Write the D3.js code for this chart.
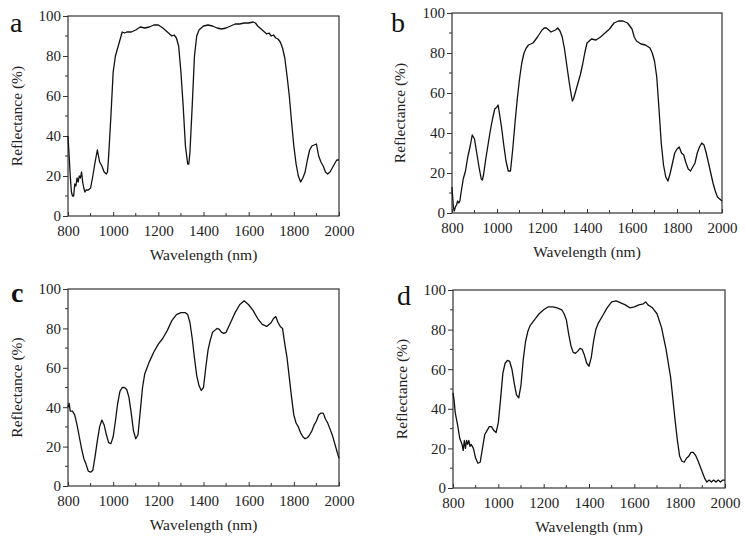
<!DOCTYPE html>
<html lang="en">
<head>
    <meta charset="UTF-8">
    <script src="https://d3js.org/d3.v7.min.js"></script>
    <title>Reflectance spectra</title>
    <style>
        body {
            background-color: white;
            margin: 0;
            padding: 0;
        }
    </style>
</head>
<body>
    <svg id="chart" width="745" height="543"></svg>
    <script>
        // wavelength (nm) and reflectance (%)
        const wlA = [800, 805, 810, 815, 820, 825, 830, 835, 840, 845, 850, 855, 860, 865, 870, 875, 880, 890, 900, 910, 920, 930, 935, 940, 950, 960, 970, 975, 980, 990, 1000, 1010, 1020, 1030, 1040, 1050, 1060, 1080, 1100, 1120, 1140, 1160, 1180, 1200, 1220, 1240, 1260, 1270, 1280, 1290, 1300, 1310, 1320, 1330, 1335, 1340, 1350, 1360, 1370, 1380, 1400, 1420, 1440, 1460, 1480, 1500, 1520, 1540, 1560, 1580, 1600, 1620, 1630, 1640, 1650, 1660, 1670, 1680, 1690, 1700, 1710, 1720, 1730, 1740, 1750, 1760, 1770, 1780, 1790, 1800, 1810, 1820, 1830, 1840, 1850, 1860, 1870, 1880, 1890, 1900, 1910, 1920, 1930, 1940, 1950, 1960, 1970, 1980, 1990, 2000];
        const rA = [40, 30, 20, 12, 10, 10, 16, 15, 19, 17, 20, 19, 22, 17, 14, 12, 13, 13, 14, 20, 27, 33, 30, 27, 25, 22, 21, 22, 30, 50, 72, 80, 84, 88, 92, 91.5, 92, 92, 93, 94.5, 94, 94.5, 95.5, 95.5, 94, 92, 90, 90.5, 89, 85, 72, 55, 35, 26, 26, 32, 55, 80, 90, 93, 95, 95.5, 95, 94, 93.5, 94, 95, 96, 96, 96.5, 96.5, 97, 96.5, 95, 94, 93, 92, 91, 91.5, 90, 90.5, 89, 88.5, 87, 84, 79, 70, 60, 47, 35, 26, 20, 17, 19, 22, 28, 33, 35, 35.5, 36, 30, 27, 25, 22, 21, 22, 24, 26, 28, 28];

        const wlB = [800, 803, 806, 810, 815, 820, 825, 830, 835, 840, 850, 860, 870, 880, 890, 900, 910, 920, 930, 935, 940, 950, 960, 970, 980, 990, 1000, 1005, 1020, 1030, 1040, 1050, 1060, 1070, 1080, 1090, 1100, 1110, 1120, 1130, 1140, 1160, 1180, 1200, 1210, 1220, 1230, 1240, 1260, 1270, 1280, 1290, 1300, 1310, 1320, 1330, 1335, 1340, 1350, 1360, 1370, 1380, 1390, 1400, 1410, 1420, 1440, 1460, 1480, 1500, 1520, 1540, 1560, 1580, 1600, 1610, 1620, 1640, 1660, 1680, 1690, 1700, 1710, 1720, 1730, 1740, 1750, 1760, 1770, 1780, 1790, 1800, 1810, 1820, 1830, 1840, 1850, 1860, 1870, 1880, 1890, 1900, 1910, 1920, 1930, 1940, 1950, 1960, 1970, 1980, 1990, 2000];
        const rB = [13, 8, 3, 1, 3, 4, 6, 5, 6, 10, 17, 21, 28, 33, 39, 37, 30, 23, 17, 16.5, 19, 27, 34, 41, 47, 52, 53, 54, 43, 34, 26, 21, 21, 32, 45, 57, 67, 75, 80, 82.5, 84, 85, 88, 91.5, 92.5, 92.5, 91.5, 90.5, 91.5, 92.5, 91, 88, 82, 74, 66, 59, 56, 57, 61, 65, 69, 74, 80, 85, 86, 87, 86.5, 88, 90, 92, 95, 96, 96, 95, 92, 88, 86, 84.5, 84, 82.5, 80, 76, 68, 52, 35, 24, 18, 16, 20, 25, 30, 32, 33, 30, 29, 25, 22, 21, 23, 25, 30, 33, 35, 34, 30, 25, 20, 15, 11, 8, 7, 6];

        const wlC = [800, 805, 810, 820, 830, 840, 850, 860, 870, 880, 890, 900, 910, 920, 930, 940, 950, 960, 970, 980, 990, 1000, 1010, 1020, 1030, 1040, 1050, 1060, 1070, 1080, 1090, 1100, 1110, 1120, 1130, 1140, 1150, 1160, 1180, 1200, 1220, 1240, 1260, 1280, 1300, 1320, 1330, 1340, 1350, 1360, 1370, 1380, 1390, 1400, 1410, 1420, 1430, 1440, 1450, 1460, 1470, 1480, 1490, 1500, 1520, 1540, 1560, 1580, 1600, 1620, 1640, 1660, 1680, 1700, 1710, 1720, 1730, 1740, 1750, 1760, 1770, 1780, 1790, 1800, 1810, 1820, 1830, 1840, 1850, 1860, 1870, 1880, 1890, 1900, 1910, 1920, 1930, 1940, 1950, 1960, 1970, 1980, 1990, 2000];
        const rC = [40, 42, 38, 38, 36, 31, 25, 19, 14, 11, 7.5, 7, 8, 15, 23, 30, 33.5, 31, 26, 22, 21.5, 25, 33, 42, 48, 50, 50, 49, 45, 37, 28, 24, 26, 38, 50, 57, 60, 63, 68, 72, 75, 79, 84, 87, 88, 88, 87, 83, 75, 65, 56, 51, 48.5, 50, 60, 69, 74, 78, 79, 80, 79.5, 78, 77.5, 78, 83, 88, 92, 94, 92, 89, 85, 82, 81, 83, 85, 86, 83, 81, 80, 72, 65, 55, 45, 36, 32, 30, 27, 25, 24, 24.5, 26, 28, 31, 33, 36, 37, 37, 34, 32, 29, 26, 22, 18, 14];

        const wlD = [800, 805, 810, 820, 830, 840, 845, 850, 855, 860, 865, 870, 875, 880, 890, 900, 910, 920, 930, 940, 950, 960, 970, 980, 990, 1000, 1010, 1020, 1030, 1040, 1050, 1060, 1070, 1080, 1090, 1100, 1110, 1120, 1130, 1140, 1160, 1180, 1200, 1220, 1240, 1260, 1280, 1290, 1300, 1310, 1320, 1330, 1340, 1350, 1360, 1370, 1380, 1390, 1400, 1410, 1420, 1430, 1440, 1460, 1480, 1500, 1520, 1540, 1560, 1580, 1600, 1620, 1640, 1650, 1660, 1680, 1700, 1720, 1740, 1760, 1770, 1780, 1790, 1800, 1810, 1820, 1830, 1840, 1850, 1860, 1870, 1880, 1890, 1900, 1910, 1920, 1930, 1940, 1950, 1960, 1970, 1980, 1990, 2000];
        const rD = [48, 44, 38, 32, 25, 22, 19, 24, 20, 24, 22, 24, 21, 22, 20, 15, 12.5, 13, 20, 27, 29, 31, 31, 29, 28, 33, 45, 58, 63, 64.5, 64, 60, 53, 47, 45.5, 52, 65, 74, 79, 82, 85, 88, 90, 91.5, 91.5, 91, 90, 88, 85, 78, 72, 68.5, 68, 69, 70.5, 70, 67, 63, 61.5, 66, 74, 80, 83, 87, 91, 94, 94.5, 93.5, 92.5, 91, 91.5, 92.5, 93, 94, 92.5, 91, 88, 81, 70, 56, 45, 34, 24, 16, 13.5, 13, 15, 16, 18, 18, 16.5, 14, 11, 8, 5, 3, 4, 3, 4, 3, 4, 3, 4, 4];

        const xTicks = [800, 1000, 1200, 1400, 1600, 1800, 2000];
        const yTicks = [0, 20, 40, 60, 80, 100];
        const xTitle = "Wavelength (nm)";
        const yTitle = "Reflectance (%)";

        const panels = [
            { letter: "a", wl: wlA, r: rA, x0: 68, x1: 339, y0: 16, y1: 216, lx: 10, ly: 32, tx: 17 },
            { letter: "b", wl: wlB, r: rB, x0: 452, x1: 722, y0: 13, y1: 213, lx: 391, ly: 32, tx: 400 },
            { letter: "c", wl: wlC, r: rC, x0: 68, x1: 339, y0: 289, y1: 486, lx: 11, ly: 302, tx: 17 },
            { letter: "d", wl: wlD, r: rD, x0: 453, x1: 725, y0: 290, y1: 488, lx: 397, ly: 305, tx: 402 }
        ];

        const serif = "'Liberation Serif', 'Times New Roman', 'DejaVu Serif', serif";
        const svg = d3.select("#chart").attr("font-family", serif);

        panels.forEach(p => {
            const x = d3.scaleLinear().domain([800, 2000]).range([p.x0, p.x1]);
            const y = d3.scaleLinear().domain([0, 100]).range([p.y1, p.y0]);
            const g = svg.append("g");

            // minor ticks
            g.selectAll(".ymin").data(d3.range(10, 100, 20)).enter().append("line")
                .attr("x1", p.x0 - 3).attr("x2", p.x0)
                .attr("y1", d => y(d)).attr("y2", d => y(d))
                .attr("stroke", "#333").attr("stroke-width", 1);
            g.selectAll(".xmin").data(d3.range(900, 2000, 200)).enter().append("line")
                .attr("x1", d => x(d)).attr("x2", d => x(d))
                .attr("y1", p.y1).attr("y2", p.y1 - 3)
                .attr("stroke", "#333").attr("stroke-width", 1);

            // major ticks + labels
            const yAxis = d3.axisLeft(y).tickValues(yTicks).tickSize(5).tickPadding(2).tickFormat(d3.format("d"));
            g.append("g").attr("transform", `translate(${p.x0},0)`).call(yAxis)
                .attr("font-family", serif)
                .call(a => a.select(".domain").remove())
                .call(a => a.selectAll("text").attr("font-size", 15).attr("fill", "#222"))
                .call(a => a.selectAll("line").attr("stroke", "#333"));

            const xAxis = d3.axisBottom(x).tickValues(xTicks).tickSize(-4).tickPadding(9).tickFormat(d3.format("d"));
            g.append("g").attr("transform", `translate(0,${p.y1})`).call(xAxis)
                .attr("font-family", serif)
                .call(a => a.select(".domain").remove())
                .call(a => a.selectAll("text").attr("font-size", 15).attr("fill", "#222"))
                .call(a => a.selectAll("line").attr("stroke", "#333"));

            // frame
            g.append("rect")
                .attr("x", p.x0).attr("y", p.y0)
                .attr("width", p.x1 - p.x0).attr("height", p.y1 - p.y0)
                .attr("fill", "none").attr("stroke", "#333").attr("stroke-width", 1.2);

            // spectrum
            const line = d3.line().x((d, i) => x(p.wl[i])).y(d => y(d));
            g.append("path").datum(p.r)
                .attr("d", line)
                .attr("fill", "none").attr("stroke", "#111").attr("stroke-width", 1.3)
                .attr("stroke-linejoin", "round");

            // titles
            g.append("text")
                .attr("x", (p.x0 + p.x1) / 2).attr("y", p.y1 + 44)
                .attr("text-anchor", "middle").attr("font-size", 15.5).attr("fill", "#222")
                .text(xTitle);
            g.append("text")
                .attr("transform", `translate(${p.tx + 5},${(p.y0 + p.y1) / 2}) rotate(-90)`)
                .attr("text-anchor", "middle").attr("font-size", 15.5).attr("fill", "#222")
                .text(yTitle);
            g.append("text")
                .attr("x", p.lx).attr("y", p.ly)
                .attr("font-size", 28).attr("fill", "#111")
                .attr("font-weight", p.letter === "c" ? "bold" : "normal")
                .text(p.letter);
        });
    </script>
</body>
</html>
